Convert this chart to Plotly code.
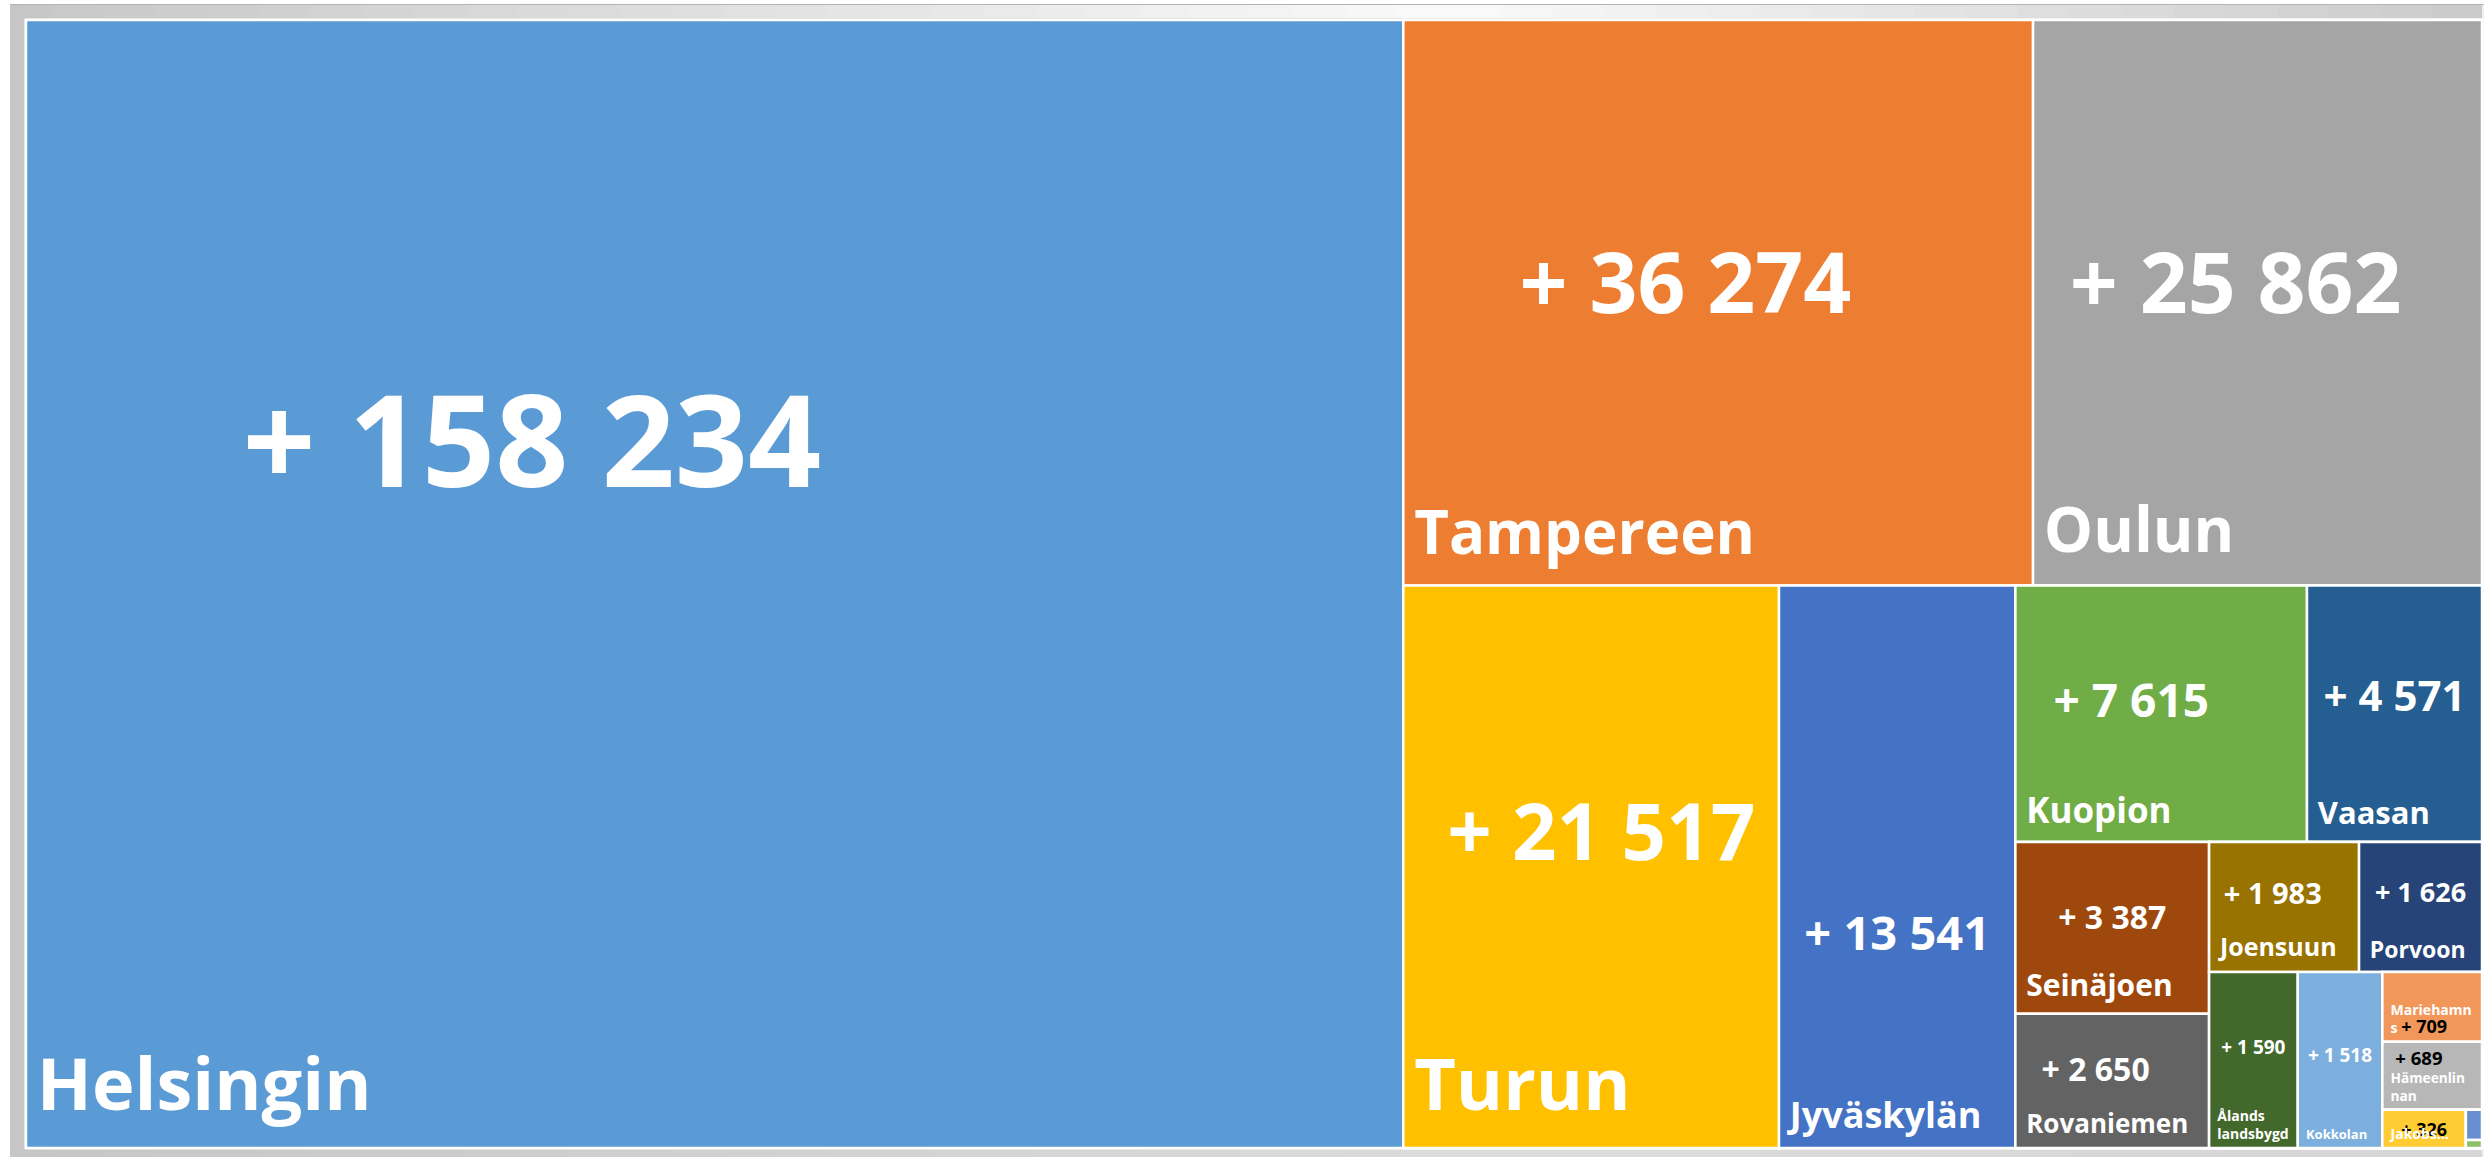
import plotly.graph_objects as go

# Growth per region (value shown in each tile)
REGIONS = [
    "Helsingin", "Tampereen", "Oulun", "Turun", "Jyväskylän", "Kuopion",
    "Vaasan", "Seinäjoen", "Rovaniemen", "Joensuun", "Porvoon",
    "Ålands landsbygd", "Kokkolan", "Mariehamns", "Hämeenlinnan",
    "Jakobstads", "Muu A", "Muu B",
]
GROWTH = [
    158234, 36274, 25862, 21517, 13541, 7615,
    4571, 3387, 2650, 1983, 1626,
    1590, 1518, 709, 689,
    326, 50, 13,
]
# text written in the tiles (Excel wraps / truncates the small ones)
NAME_TEXT = [
    "Helsingin", "Tampereen", "Oulun", "Turun", "Jyväskylän", "Kuopion",
    "Vaasan", "Seinäjoen", "Rovaniemen", "Joensuun", "Porvoon",
    "Ålands<br>landsbygd", "Kokkolan", "Mariehamn<br>s", "Hämeenlin<br>nan",
    "Jakobs...", "", "",
]

# Office palette, one colour per tile
TILE_COLORS = {
    "Helsingin": "#5B9BD5", "Tampereen": "#ED7D31", "Oulun": "#A5A5A5",
    "Turun": "#FFC000", "Jyväskylän": "#4472C4", "Kuopion": "#70AD47",
    "Vaasan": "#255E91", "Seinäjoen": "#9E480E", "Rovaniemen": "#636363",
    "Joensuun": "#997300", "Porvoon": "#264478",
    "Ålands landsbygd": "#43682B", "Kokkolan": "#7CAFDD",
    "Mariehamns": "#F1975A", "Hämeenlinnan": "#B7B7B7",
    "Jakobstads": "#FFCD33", "Muu A": "#698ED0", "Muu B": "#8CC168",
}
NUMBER_SIZE = {
    "Helsingin": 128, "Tampereen": 84, "Oulun": 84, "Turun": 78,
    "Jyväskylän": 47, "Kuopion": 46, "Vaasan": 42, "Seinäjoen": 32,
    "Rovaniemen": 32, "Joensuun": 29, "Porvoon": 27,
    "Ålands landsbygd": 19, "Kokkolan": 19, "Mariehamns": 18,
    "Hämeenlinnan": 19, "Jakobstads": 18, "Muu A": 8, "Muu B": 8,
}
# (lift up, shift left) of the number inside its tile, px
NUMBER_NUDGE = {
    "Helsingin": (147, 181), "Tampereen": (22, 29), "Oulun": (22, 17),
    "Turun": (37, -13), "Jyväskylän": (-65, 0), "Kuopion": (15, 30),
    "Vaasan": (19, 0), "Seinäjoen": (11, 0), "Rovaniemen": (12, 18),
    "Joensuun": (14, 10), "Porvoon": (16, 0), "Ålands landsbygd": (13, 0),
    "Kokkolan": (5, 0),
}
NAME_SIZE = {
    "Helsingin": 72, "Tampereen": 60, "Oulun": 62, "Turun": 72,
    "Jyväskylän": 36, "Kuopion": 35, "Vaasan": 31, "Seinäjoen": 30,
    "Rovaniemen": 26, "Joensuun": 25, "Porvoon": 23,
    "Ålands landsbygd": 14, "Kokkolan": 13, "Mariehamns": 14,
    "Hämeenlinnan": 14, "Jakobstads": 14, "Muu A": 8, "Muu B": 8,
}
DARK_NUMBERS = {"Mariehamns", "Hämeenlinnan", "Jakobstads"}
# small tiles where Excel put the number into the name block
NUMBER_AFTER_NAME = {"Mariehamns"}
NUMBER_BEFORE_NAME = {"Hämeenlinnan"}

# Excel's tile arrangement, rebuilt as invisible groups that
# plotly's slice-dice packing splits alternately across / down
LAYOUT_TREE = ("kaikki", [
    "Helsingin",
    ("r1", [
        ("r1a", ["Tampereen", "Oulun"]),
        ("r1b", ["Turun", "Jyväskylän",
                 ("r2", [
                     ("r2a", ["Kuopion", "Vaasan"]),
                     ("r2b", [
                         ("r3a", ["Seinäjoen", "Rovaniemen"]),
                         ("r3b", [
                             ("r4a", ["Joensuun", "Porvoon"]),
                             ("r4b", ["Ålands landsbygd", "Kokkolan",
                                      ("r5", ["Mariehamns", "Hämeenlinnan",
                                              ("r6", ["Jakobstads",
                                                      ("r7", ["Muu A", "Muu B"])])])]),
                         ]),
                     ]),
                 ])]),
    ]),
])

FONT = "Open Sans"
NBSP = "\u00a0"

growth_by_region = dict(zip(REGIONS, GROWTH))
name_by_region = dict(zip(REGIONS, NAME_TEXT))


def fmt_growth(v):
    return "+ " + f"{v:,}".replace(",", " ")


def number_label(region, v):
    """number html + base font size (the base size drives the spacer line)"""
    size = NUMBER_SIZE[region]
    lift, left = NUMBER_NUDGE.get(region, (0, 0))
    core = f"<b>{fmt_growth(v)}</b>"
    n = round(2 * abs(left) / (0.26 * size))
    if left > 0:
        core = core + NBSP * n
    elif left < 0:
        core = NBSP * n + core
    core = f"<span style='font-size:{size}px'>{core}</span>"
    if lift > 0:
        return core + "<br>" + NBSP, (2 * lift + 0.29 * size) / 1.59
    if lift < 0:
        return NBSP + "<br>" + core, (-lift + 0.535 * size) / 1.185
    return core, size


def name_label(region, v):
    size = NAME_SIZE[region]
    lines = name_by_region[region].split("<br>")
    if region in NUMBER_AFTER_NAME:
        lines[-1] += (f" <span style='color:black;font-size:{NUMBER_SIZE[region]}px'>"
                      f"{fmt_growth(v)}</span>")
    if region in NUMBER_BEFORE_NAME:
        lines.insert(0, f"<span style='color:black;font-size:{NUMBER_SIZE[region]}px'>"
                        f"{NBSP}{fmt_growth(v)}</span>")
    if size >= 20:
        inset = f"<span style='font-size:30px'>{NBSP}</span>"
        html = f"{inset}<span style='font-size:{size}px'><b>{lines[0]}</b></span><br>{NBSP}"
        return html, round(0.3 * size)
    inset = f"<span style='font-size:20px'>{NBSP}</span>"
    return "<br>".join(f"{inset}<b>{ln}</b>" for ln in lines), size


ids, parents, labels, values = [], [], [], []
colors, num_text, name_text = [], [], []
num_size, name_size, num_color = [], [], []


def walk(node, parent):
    if isinstance(node, tuple):
        gid, children = node
        ids.append(gid)
        parents.append(parent)
        labels.append("")
        values.append(0)
        colors.append("white")
        num_text.append("")
        name_text.append("")
        num_size.append(10)
        name_size.append(10)
        num_color.append("white")
        for child in children:
            walk(child, gid)
        return
    v = growth_by_region[node]
    ids.append(node)
    parents.append(parent)
    labels.append(node)
    values.append(v)
    colors.append(TILE_COLORS[node])
    num_color.append("black" if node in DARK_NUMBERS else "white")
    if not name_by_region[node]:
        num_text.append("")
        name_text.append("")
        num_size.append(10)
        name_size.append(10)
        return
    if node in NUMBER_AFTER_NAME or node in NUMBER_BEFORE_NAME:
        num_text.append("")
        num_size.append(10)
    else:
        t, s = number_label(node, v)
        num_text.append(t)
        num_size.append(s)
    t, s = name_label(node, v)
    name_text.append(t)
    name_size.append(s)


walk(LAYOUT_TREE, "")

common = dict(
    ids=ids, labels=labels, parents=parents, values=values,
    branchvalues="remainder", sort=False,
    tiling=dict(packing="slice-dice", pad=0),
    pathbar=dict(visible=False),
    root=dict(color="white"),
    textinfo="text",
    hoverinfo="skip",
)

fig = go.Figure()

# tiles + the growth numbers
fig.add_trace(go.Treemap(
    **common,
    text=num_text,
    textposition="middle center",
    textfont=dict(family=FONT, size=num_size, color=num_color),
    insidetextfont=dict(family=FONT, size=num_size, color=num_color),
    marker=dict(colors=colors, line=dict(color="white", width=2.5),
                pad=dict(t=0, l=0, r=0, b=0)),
))

# transparent copy carrying the region names in the bottom-left corner
fig.add_trace(go.Treemap(
    **common,
    text=name_text,
    textposition="bottom left",
    textfont=dict(family=FONT, size=name_size, color="white"),
    insidetextfont=dict(family=FONT, size=name_size, color="white"),
    marker=dict(colors=["rgba(0,0,0,0)"] * len(ids),
                line=dict(color="rgba(0,0,0,0)", width=0),
                pad=dict(t=0, l=0, r=0, b=0)),
))

W, H = 2484, 1157
ML, MR, MT, MB = 26, 2, 20, 9
pw, ph = W - ML - MR, H - MT - MB


def px_x(x):
    return (x - ML) / pw


def px_y(y):
    return (H - MB - y) / ph


def grey(x, stops):
    # linear blend between (x, level) stops -> css grey
    for (xa, a), (xb, b) in zip(stops, stops[1:]):
        if xa <= x <= xb:
            lv = a + (b - a) * (x - xa) / (xb - xa)
            return f"rgb({lv:.0f},{lv:.0f},{lv:.0f})"
    return f"rgb({stops[-1][1]},{stops[-1][1]},{stops[-1][1]})"


TOP_STOPS = [(0, 198), (1450, 250), (W, 202)]
BOTTOM_STOPS = [(0, 198), (1500, 220), (W, 214)]

# Excel chart-area frame: soft grey bands around the plot
bands = []
n_strips = 48
for i in range(n_strips):
    xa, xb = W * i / n_strips, W * (i + 1) / n_strips + 1
    xm = (xa + xb) / 2
    bands.append((xa, xb, 5, 18, grey(xm, TOP_STOPS)))
    bands.append((xa, xb, H - MB, H, grey(xm, BOTTOM_STOPS)))
bands += [
    (10, ML - 2, 5, H, "rgb(198,198,198)"),
    (0, 10, 0, H, "white"),
    (0, W, 0, 4, "white"),
    (10, W, 4, 5, "#b4b4b4"),
    (W - 2, W, 5, H, "#f0f0f0"),
]
for xa, xb, ya, yb, col in bands:
    fig.add_shape(type="rect", xref="paper", yref="paper",
                  x0=px_x(xa), x1=px_x(xb), y0=px_y(yb), y1=px_y(ya),
                  fillcolor=col, line=dict(width=0), layer="below")

fig.update_layout(
    width=W, height=H,
    margin=dict(l=ML, r=MR, t=MT, b=MB),
    paper_bgcolor="#d3d3d3",
    font=dict(family=FONT),
    showlegend=False,
)

fig.write_html(
    "out.html",
    config={"displayModeBar": False},
    post_script="document.body.style.margin='0';document.body.style.overflow='hidden';",
)
